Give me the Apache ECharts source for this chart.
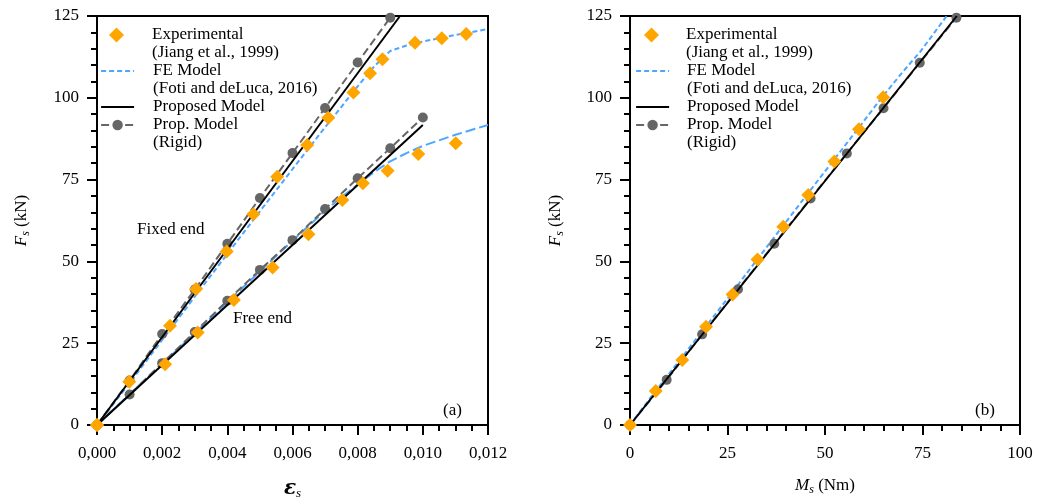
<!DOCTYPE html>
<html>
<head>
<meta charset="UTF-8">
<title>Fs chart</title>
<style>
  html, body { margin: 0; padding: 0; background: #fff; }
  #main { width: 1038px; height: 501px; }
</style>
<script src="https://cdn.jsdelivr.net/npm/echarts@6/dist/echarts.min.js"></script>
</head>
<body>
<div id="main"></div>
<script>
// ---- data ----
// (a) strain vs force
var fixedExpX = [0, 0.00099, 0.00224, 0.00304, 0.00398, 0.00480, 0.00553, 0.00645, 0.00710, 0.00787, 0.00838, 0.00876, 0.00976, 0.01058, 0.01133];
var fixedExpY = [0, 13.2, 30.3, 41.6, 53.0, 64.4, 75.9, 85.6, 93.9, 101.6, 107.5, 111.8, 116.8, 118.2, 119.5];
var freeExpX = [0, 0.00209, 0.00309, 0.00420, 0.00539, 0.00649, 0.00753, 0.00816, 0.00892, 0.00986, 0.01101];
var freeExpY = [0, 18.6, 28.3, 38.2, 48.1, 58.3, 68.8, 73.9, 77.7, 82.8, 86.1];

var fixedFeX = [0, 0.001, 0.002, 0.003, 0.004, 0.005, 0.006, 0.007, 0.008, 0.0085, 0.0088, 0.009, 0.0095, 0.010, 0.011, 0.012];
var fixedFeY = [0, 12.8, 26.0, 39.2, 52.3, 65.3, 78.2, 91.0, 103.5, 109.5, 112.5, 114.3, 116.0, 117.2, 119.2, 121.0];
var freeFeX = [0, 0.001, 0.002, 0.003, 0.004, 0.005, 0.006, 0.007, 0.0075, 0.008, 0.0085, 0.009, 0.0095, 0.010, 0.011, 0.012];
var freeFeY = [0, 9.4, 18.7, 28.0, 37.5, 47.0, 56.3, 65.5, 69.6, 73.5, 77.3, 80.6, 83.1, 85.3, 88.7, 91.7];

var fixedPropX = [0, 0.0093];
var fixedPropY = [0, 125];
var freePropX = [0, 0.0100];
var freePropY = [0, 91.7];

var fixedRigidX = [0, 0.001, 0.002, 0.003, 0.004, 0.005, 0.006, 0.007, 0.008, 0.009];
var fixedRigidY = [0, 13.6, 27.8, 41.4, 55.4, 69.4, 83.1, 96.9, 110.8, 124.5];
var freeRigidX = [0, 0.001, 0.002, 0.003, 0.004, 0.005, 0.006, 0.007, 0.008, 0.009, 0.010];
var freeRigidY = [0, 9.3, 18.9, 28.4, 38.0, 47.4, 56.5, 66.0, 75.4, 84.6, 94.0];

// (b) moment vs force
var momExpX = [0, 6.6, 13.4, 19.5, 26.3, 32.7, 39.3, 45.7, 52.4, 58.7, 64.9];
var momExpY = [0, 10.4, 19.9, 30.0, 39.9, 50.6, 60.6, 70.3, 80.5, 90.4, 100.2];
var momFeX = [0, 6.5, 13, 19.5, 26, 32.5, 39, 45.5, 52, 58.5, 64.5, 70, 74.5, 81.2];
var momFeY = [0, 10.3, 20.2, 30.2, 40.2, 50.4, 60.5, 70.6, 80.6, 90.6, 100, 108, 114.2, 125];
var momPropX = [0, 83.8];
var momPropY = [0, 125];
var momRigidX = [0, 9.4, 18.5, 27.7, 37.0, 46.3, 55.6, 65.0, 74.3, 83.7];
var momRigidY = [0, 13.8, 27.7, 41.5, 55.4, 69.2, 83.0, 96.8, 110.7, 124.5];

var legendNames = ['Experimental', 'FE Model', 'Proposed Model', 'Prop. Model'];
// blank first line so the icon lines up with the first real line
var legendText = {
  'Experimental': '\nExperimental\n(Jiang et al., 1999)',
  'FE Model': '\nFE Model\n(Foti and deLuca, 2016)',
  'Proposed Model': 'Proposed Model',
  'Prop. Model': '\nProp. Model\n(Rigid)'
};
var legendRows = [35, 71, 107, 125]; // centre of first text line

function pairs(xs, ys) {
  return xs.map(function (x, i) { return [x, ys[i]]; });
}

var FONT = 'Liberation Serif';
var ORANGE = '#ffa500';
var BLUE = '#4da6ff';
var GREY = '#666666';

function feLine(name, data, dash, idx) {
  return { name: name, type: 'line', xAxisIndex: idx, yAxisIndex: idx, data: data,
    symbol: 'none', z: 2, lineStyle: { color: BLUE, width: 2, type: dash }, itemStyle: { color: BLUE } };
}
function rigidLine(data, idx) {
  return { name: 'Prop. Model', type: 'line', xAxisIndex: idx, yAxisIndex: idx, data: data,
    symbol: 'circle', symbolSize: 10, showSymbol: true, z: 3,
    lineStyle: { color: GREY, width: 2, type: [8, 4] }, itemStyle: { color: GREY } };
}
function propLine(data, idx) {
  return { name: 'Proposed Model', type: 'line', xAxisIndex: idx, yAxisIndex: idx, data: data,
    symbol: 'none', z: 4, lineStyle: { color: '#000', width: 2, type: 'solid' }, itemStyle: { color: '#000' } };
}
function expPoints(data, idx) {
  return { name: 'Experimental', type: 'scatter', xAxisIndex: idx, yAxisIndex: idx, data: data,
    symbol: 'diamond', symbolSize: 14, z: 5, itemStyle: { color: ORANGE, opacity: 1 } };
}

// one legend per entry so each can sit on its own row
function makeLegends(left, textLeft) {
  return legendNames.map(function (n, i) {
    var twoLine = n !== 'Proposed Model';
    var item = { name: n };
    var w = 33, h = 13, x = left;
    if (n === 'Experimental') { item.icon = 'diamond'; w = 15; h = 15; x = left + 9; }
    if (n === 'FE Model' || n === 'Proposed Model') item.itemStyle = { opacity: 0 };
    return {
      orient: 'vertical', left: x, padding: 0,
      top: twoLine ? legendRows[i] - 27 : legendRows[i] - 9,
      itemWidth: w, itemHeight: h,
      lineStyle: { width: 2.2 },
      data: [item],
      formatter: function (name) { return legendText[name]; },
      textStyle: { fontFamily: FONT, fontSize: 17, color: '#000', lineHeight: 18,
        padding: [0, 0, 0, textLeft - x - w - 5] },
      selectedMode: false
    };
  });
}

function yAxisCfg(idx, gap) {
  return {
    type: 'value', gridIndex: idx, min: 0, max: 125, interval: 25,
    name: '{i|F}{s|s} (kN)', nameLocation: 'middle', nameGap: gap,
    nameTextStyle: { fontFamily: FONT, fontSize: 17, color: '#000',
      rich: { i: { fontFamily: FONT, fontSize: 17, fontStyle: 'italic' },
              s: { fontFamily: FONT, fontSize: 12, fontStyle: 'italic', padding: [9, 0, 0, 0] } } },
    axisLine: { show: true, onZero: false, lineStyle: { color: '#000', width: 2 } },
    axisTick: { show: true, inside: false, length: 10, lineStyle: { color: '#000', width: 2 } },
    minorTick: { show: true, splitNumber: 5, length: 6, lineStyle: { color: '#000', width: 2 } },
    splitLine: { show: false },
    axisLabel: { fontFamily: FONT, fontSize: 17, color: '#000', margin: 18 }
  };
}

var xAxisBase = {
  axisLine: { show: true, onZero: false, lineStyle: { color: '#000', width: 2 } },
  axisTick: { show: true, inside: false, length: 10, lineStyle: { color: '#000', width: 2 } },
  splitLine: { show: false }
};

var chart = echarts.init(document.getElementById('main'), null, { renderer: 'canvas' });

var option = {
  backgroundColor: '#fff',
  animation: false,
  grid: [
    { left: 97, top: 16, width: 391, height: 409, show: true, borderColor: '#000', borderWidth: 2,
      containLabel: false, outerBoundsMode: 'none' },
    { left: 630, top: 16, width: 390, height: 409, show: true, borderColor: '#000', borderWidth: 2,
      containLabel: false, outerBoundsMode: 'none' }
  ],
  xAxis: [
    Object.assign({}, xAxisBase, {
      type: 'value', gridIndex: 0, min: 0, max: 0.012, interval: 0.002,
      minorTick: { show: true, splitNumber: 4, length: 6, lineStyle: { color: '#000', width: 2 } },
      axisLabel: { fontFamily: FONT, fontSize: 17, color: '#000', margin: 20,
        formatter: function (v) { return v.toFixed(3).replace('.', ','); } },
      name: '{e|ε}{s|s}', nameLocation: 'middle', nameGap: 52,
      nameTextStyle: { rich: {
        e: { fontFamily: 'DejaVu Serif', fontSize: 20, fontStyle: 'italic', fontWeight: 'bold', color: '#000' },
        s: { fontFamily: FONT, fontSize: 13, fontStyle: 'italic', color: '#000', padding: [10, 0, 0, 0] } } }
    }),
    Object.assign({}, xAxisBase, {
      type: 'value', gridIndex: 1, min: 0, max: 100, interval: 25,
      minorTick: { show: true, splitNumber: 5, length: 6, lineStyle: { color: '#000', width: 2 } },
      axisLabel: { fontFamily: FONT, fontSize: 17, color: '#000', margin: 20 },
      name: '{i|M}{s|s} (Nm)', nameLocation: 'middle', nameGap: 50,
      nameTextStyle: { fontFamily: FONT, fontSize: 17, color: '#000', rich: {
        i: { fontFamily: FONT, fontSize: 17, fontStyle: 'italic', color: '#000' },
        s: { fontFamily: FONT, fontSize: 12, fontStyle: 'italic', color: '#000', padding: [9, 0, 0, 0] } } }
    })
  ],
  yAxis: [yAxisCfg(0, 65), yAxisCfg(1, 64)],
  legend: makeLegends(100, 152).concat(makeLegends(635, 686)),
  series: [
    feLine('FE Model', pairs(fixedFeX, fixedFeY), [5, 3], 0),
    feLine('FE Model', pairs(freeFeX, freeFeY), [10, 4], 0),
    rigidLine(pairs(fixedRigidX, fixedRigidY), 0),
    rigidLine(pairs(freeRigidX, freeRigidY), 0),
    propLine(pairs(fixedPropX, fixedPropY), 0),
    propLine(pairs(freePropX, freePropY), 0),
    expPoints(pairs(fixedExpX, fixedExpY), 0),
    expPoints(pairs(freeExpX, freeExpY), 0),

    feLine('FE Model', pairs(momFeX, momFeY), [5, 3], 1),
    rigidLine(pairs(momRigidX, momRigidY), 1),
    propLine(pairs(momPropX, momPropY), 1),
    expPoints(pairs(momExpX, momExpY), 1)
  ],
  graphic: [
    { type: 'text', left: 137, top: 221, style: { text: 'Fixed end', font: '17px "Liberation Serif"', fill: '#000' } },
    { type: 'text', left: 233, top: 310, style: { text: 'Free end', font: '17px "Liberation Serif"', fill: '#000' } },
    { type: 'text', left: 443, top: 402, style: { text: '(a)', font: '17px "Liberation Serif"', fill: '#000' } },
    { type: 'text', left: 975, top: 402, style: { text: '(b)', font: '17px "Liberation Serif"', fill: '#000' } }
  ]
};

chart.setOption(option);
</script>
</body>
</html>
